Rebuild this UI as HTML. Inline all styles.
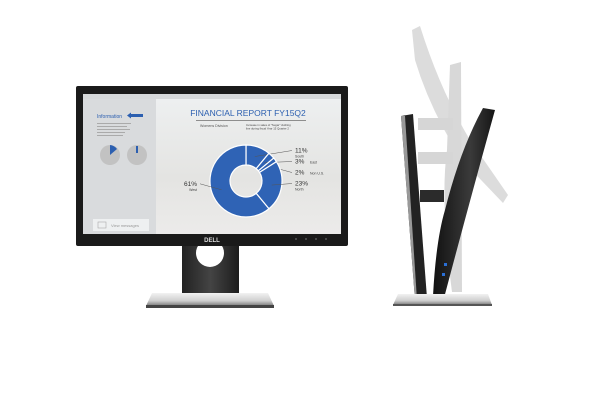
<!DOCTYPE html>
<html><head><meta charset="utf-8"><style>
html,body{margin:0;padding:0;background:#fff;width:600px;height:400px;overflow:hidden}
svg{display:block}
text{font-family:"Liberation Sans",sans-serif}
</style></head><body>
<svg width="600" height="400" viewBox="0 0 600 400">
<defs>
<linearGradient id="neck" x1="0" x2="1"><stop offset="0" stop-color="#222"/><stop offset="0.5" stop-color="#444"/><stop offset="1" stop-color="#1c1c1c"/></linearGradient>
<linearGradient id="base" x1="0" y1="0" x2="0" y2="1"><stop offset="0" stop-color="#f2f2f2"/><stop offset="0.6" stop-color="#cfcfcf"/><stop offset="1" stop-color="#777"/></linearGradient>
<linearGradient id="scr" x1="0" y1="0" x2="0" y2="1"><stop offset="0" stop-color="#eef0f1"/><stop offset="0.6" stop-color="#e4e4e2"/><stop offset="1" stop-color="#ecebea"/></linearGradient>
<linearGradient id="panel" x1="0" x2="1"><stop offset="0" stop-color="#111"/><stop offset="0.6" stop-color="#3a3a3a"/><stop offset="1" stop-color="#151515"/></linearGradient>
</defs>

<g>
<rect x="182" y="242" width="57" height="60" fill="url(#neck)"/>
<circle cx="210" cy="253" r="14" fill="#fff"/>
<path d="M152 293 L268 293 L274 306 L146 306 Z" fill="url(#base)"/>
<rect x="146" y="305" width="128" height="3" fill="#444"/>
<rect x="76" y="86" width="272" height="160" rx="2" fill="#1a1a1a"/>
<rect x="83" y="94" width="258" height="140" fill="url(#scr)"/>
<rect x="83" y="94" width="258" height="5" fill="#d6d8da"/>
<rect x="83" y="99" width="73" height="135" fill="#d9dbdd"/>
<text x="97" y="118" font-size="5" fill="#2c5fb0">Information</text>
<rect x="129" y="114" width="14" height="3" fill="#2c5fb0"/>
<polygon points="127,115.5 131,112.5 131,118.5" fill="#2c5fb0"/>
<g fill="#aaa"><rect x="97" y="123" width="34" height="1"/><rect x="97" y="126" width="30" height="1"/><rect x="97" y="129" width="33" height="1"/><rect x="97" y="132" width="28" height="1"/><rect x="97" y="135" width="26" height="1"/></g>
<circle cx="110" cy="155" r="10" fill="#c2c2c2"/><path d="M110 155 L110 145 A10 10 0 0 1 117 149 Z" fill="#2c5fb0"/>
<circle cx="137" cy="155" r="10" fill="#c2c2c2"/><rect x="136" y="146" width="2" height="7" fill="#2c5fb0"/>
<rect x="93" y="219" width="56" height="12" fill="#eef0f1"/>
<text x="111" y="227" font-size="4" fill="#999">View messages</text>
<rect x="98" y="222" width="8" height="6" fill="none" stroke="#aaa" stroke-width="0.6"/>
<text x="248" y="116" font-size="8.5" fill="#2c5fb0" text-anchor="middle">FINANCIAL REPORT FY15Q2</text>
<rect x="196" y="120" width="110" height="0.8" fill="#777"/>
<text x="200" y="127" font-size="3.6" fill="#555">Womens Division</text>
<text x="246" y="126" font-size="2.8" fill="#444">Increase in sales of "Sugar" clothing</text>
<text x="246" y="129.5" font-size="2.8" fill="#444">line during fiscal Year 15 Quarter 2</text>
<g id="donut"></g>
<g fill="#555"><circle cx="296" cy="239" r="1"/><circle cx="306" cy="239" r="1"/><circle cx="316" cy="239" r="1"/><circle cx="326" cy="239" r="1"/></g>
<text x="212" y="242" font-size="6" fill="#ddd" font-weight="bold" text-anchor="middle">DELL</text>
</g>

<g>
<path d="M412 30 L420 26 Q440 90 470 140 L508 195 L503 203 L462 160 Q430 110 415 60 Z" fill="#dcdcdc"/>
<path d="M450 65 L461 62 L462 292 L452 292 Q440 200 447 150 Z" fill="#d8d8d8"/>
<rect x="418" y="118" width="35" height="12" fill="#d6d6d6"/>
<rect x="418" y="152" width="35" height="12" fill="#d6d6d6"/>
<path d="M401 116 L413 114 L427 298 L415 300 Z" fill="#222"/>
<path d="M401 116 L405 116 L417 300 L415 300 Z" fill="#999"/>
<rect x="420" y="190" width="24" height="12" fill="#2b2b2b"/>
<path d="M483 108 L495 110 Q470 200 444 298 L433 296 Q436 240 445 210 Q460 150 483 108 Z" fill="url(#panel)"/>
<rect x="444" y="263" width="3" height="3" fill="#2a6fd6"/><rect x="442" y="273" width="3" height="3" fill="#2a6fd6"/>
<path d="M398 294 L488 294 L492 305 L393 305 Z" fill="url(#base)"/>
<rect x="393" y="304" width="99" height="2" fill="#555"/>
</g>
</svg>
<script>
const regions = ["South","East","Non U.S.","North","West"];
const shares = [11,3,2,23,61];
const labels = ["11%","3%","2%","23%","61%"];
const cx=246, cy=181, R=36, r=16;
const g=document.getElementById('donut');
const ns="http://www.w3.org/2000/svg";
const total=shares.reduce((a,b)=>a+b,0);
function pt(a,rad){return [cx+rad*Math.sin(a), cy-rad*Math.cos(a)];}
let acc=0, lastRightY=-1e9;
shares.forEach((v,i)=>{
  const a0=acc/total*2*Math.PI, a1=(acc+v)/total*2*Math.PI; acc+=v;
  const large=(a1-a0)>Math.PI?1:0;
  const p0=pt(a0,R),p1=pt(a1,R),q1=pt(a1,r),q0=pt(a0,r);
  const p=document.createElementNS(ns,'path');
  p.setAttribute('d',`M${p0} A${R} ${R} 0 ${large} 1 ${p1} L${q1} A${r} ${r} 0 ${large} 0 ${q0} Z`);
  p.setAttribute('fill','#2f63b5');p.setAttribute('stroke','#fff');p.setAttribute('stroke-width','1.2');
  
  
  g.appendChild(p);
  const mid=(a0+a1)/2;
  const side=Math.sin(mid)>=0?1:-1;
  const m=pt(mid,(R+r)/2);
  let ly=m[1]-6;
  if(side>0){ ly=Math.max(ly,lastRightY+11); lastRightY=ly; }
  const lx=side>0?cx+R+10:cx-R-10;
  const ln=document.createElementNS(ns,'polyline');
  ln.setAttribute('points',`${m[0]},${m[1]} ${lx},${ly}`);
  ln.setAttribute('fill','none');ln.setAttribute('stroke','#555');ln.setAttribute('stroke-width','0.5');
  
  
  g.appendChild(ln);
  const t=document.createElementNS(ns,'text');
  t.setAttribute('x',side>0?lx+3:lx-3);t.setAttribute('y',ly+2);
  t.setAttribute('text-anchor',side>0?'start':'end');
  t.setAttribute('font-size','6.5');t.setAttribute('fill','#333');
  t.setAttribute('font-family','Liberation Serif, serif');
  t.textContent=labels[i];
  
  
  g.appendChild(t);
  const s=document.createElementNS(ns,'text');
  s.setAttribute('x',side>0?lx+(v<5?18:3):lx-3);s.setAttribute('y',v<5?ly+2:ly+7);
  s.setAttribute('text-anchor',side>0?'start':'end');
  s.setAttribute('font-size','3.5');s.setAttribute('fill','#444');
  s.textContent=regions[i];
  
  
  g.appendChild(s);
});
</script>
</body></html>
